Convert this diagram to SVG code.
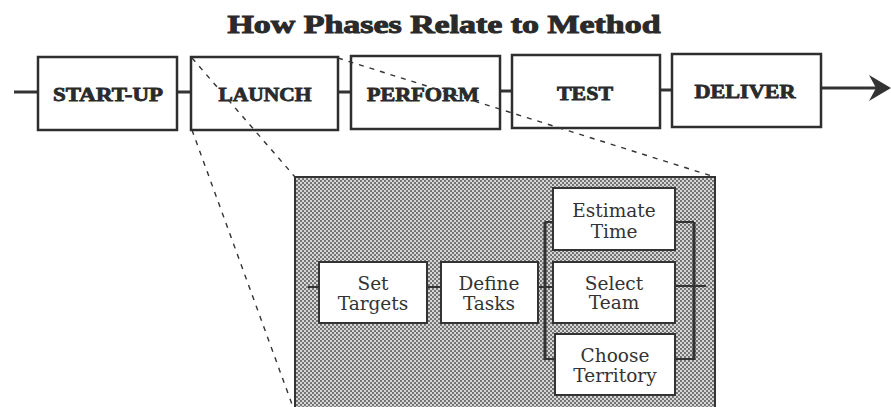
<svg xmlns="http://www.w3.org/2000/svg" width="891" height="407" viewBox="0 0 891 407">
<style>
.bg{fill:#ffffff}
.phase{fill:#ffffff;stroke:#2e2e2e;stroke-width:2.5}
.ptxt{font-family:"Liberation Serif",serif;font-weight:bold;font-size:19px;fill:#2a2a2a;stroke:#2a2a2a;stroke-width:0.8;text-anchor:middle}
.title{font-family:"Liberation Serif",serif;font-weight:bold;font-size:26px;fill:#2a2a2a;stroke:#2a2a2a;stroke-width:1;text-anchor:middle}
.line{stroke:#333;stroke-width:3;fill:none}
.thin{stroke:#333;stroke-width:2;fill:none}
.dash{stroke:#333;stroke-width:1.4;fill:none;stroke-dasharray:5 6}
.task{fill:#ffffff;stroke:#333;stroke-width:2}
.ttxt{font-family:"DejaVu Serif",serif;font-size:18.5px;fill:#333;text-anchor:middle}
</style>
<defs>
<pattern id="dots" width="4" height="4" patternUnits="userSpaceOnUse">
<rect width="4" height="4" fill="#d6d6d6"/>
<circle cx="1" cy="1" r="1.05" fill="#666"/>
<circle cx="3" cy="3" r="1.05" fill="#666"/>
</pattern>
</defs>
<rect class="bg" width="891" height="407"/>
<text class="title" x="444" y="33" textLength="433" lengthAdjust="spacingAndGlyphs">How Phases Relate to Method</text>

<g id="connectors">
<line class="line" x1="14" y1="92" x2="38" y2="92"/>
<line class="line" x1="177" y1="92" x2="191" y2="92"/>
<line class="line" x1="338" y1="92" x2="351" y2="92"/>
<line class="line" x1="500" y1="91" x2="512" y2="91"/>
<line class="line" x1="660" y1="90" x2="672" y2="90"/>
<line class="line" x1="821" y1="88" x2="884" y2="88"/>
<polygon points="869,75 891,88 869,101 876,88" fill="#333"/>
</g>

<g id="start-up"><rect class="phase" x="38" y="57" width="139" height="73"/><text class="ptxt" x="108" y="101" textLength="110" lengthAdjust="spacingAndGlyphs">START-UP</text></g>
<g id="launch"><rect class="phase" x="191" y="57" width="147" height="73"/><text class="ptxt" x="265" y="101" textLength="93" lengthAdjust="spacingAndGlyphs">LAUNCH</text></g>
<g id="perform"><rect class="phase" x="351" y="56" width="149" height="73"/><text class="ptxt" x="423" y="101" textLength="112" lengthAdjust="spacingAndGlyphs">PERFORM</text></g>
<g id="test"><rect class="phase" x="512" y="55" width="148" height="73"/><text class="ptxt" x="585" y="100" textLength="56" lengthAdjust="spacingAndGlyphs">TEST</text></g>
<g id="deliver"><rect class="phase" x="672" y="54" width="149" height="73"/><text class="ptxt" x="745" y="98" textLength="101" lengthAdjust="spacingAndGlyphs">DELIVER</text></g>

<g id="zoom-lines">
<line class="dash" x1="192" y1="58" x2="295" y2="177"/>
<line class="dash" x1="192" y1="130" x2="293" y2="407"/>
<line class="dash" x1="338" y1="58" x2="715" y2="177"/>
</g>

<g id="launch-detail">
<rect x="295" y="177" width="420" height="240" fill="url(#dots)" stroke="#333" stroke-width="2"/>
</g>

<g id="inner-connectors">
<line class="thin" x1="308" y1="287" x2="319" y2="287"/>
<line class="thin" x1="427" y1="287" x2="441" y2="287"/>
<line class="thin" x1="538" y1="287" x2="545" y2="287"/>
<line class="line" x1="545" y1="222" x2="545" y2="360"/>
<line class="thin" x1="545" y1="222" x2="553" y2="222"/>
<line class="thin" x1="545" y1="287" x2="553" y2="287"/>
<line class="thin" x1="545" y1="359" x2="555" y2="359"/>
<line class="line" x1="694" y1="222" x2="694" y2="360"/>
<line class="thin" x1="675" y1="222" x2="694" y2="222"/>
<line class="thin" x1="675" y1="286" x2="706" y2="286"/>
<line class="thin" x1="675" y1="359" x2="694" y2="359"/>
</g>

<g id="set-targets"><rect class="task" x="319" y="262" width="108" height="61"/><text class="ttxt" x="373" y="290">Set</text><text class="ttxt" x="373" y="310">Targets</text></g>
<g id="define-tasks"><rect class="task" x="441" y="262" width="97" height="61"/><text class="ttxt" x="489" y="290">Define</text><text class="ttxt" x="489" y="310">Tasks</text></g>
<g id="estimate-time"><rect class="task" x="553" y="188" width="122" height="62"/><text class="ttxt" x="614" y="217">Estimate</text><text class="ttxt" x="614" y="238">Time</text></g>
<g id="select-team"><rect class="task" x="553" y="262" width="122" height="61"/><text class="ttxt" x="614" y="290">Select</text><text class="ttxt" x="614" y="309">Team</text></g>
<g id="choose-territory"><rect class="task" x="555" y="334" width="120" height="61"/><text class="ttxt" x="615" y="362">Choose</text><text class="ttxt" x="615" y="382">Territory</text></g>
</svg>
